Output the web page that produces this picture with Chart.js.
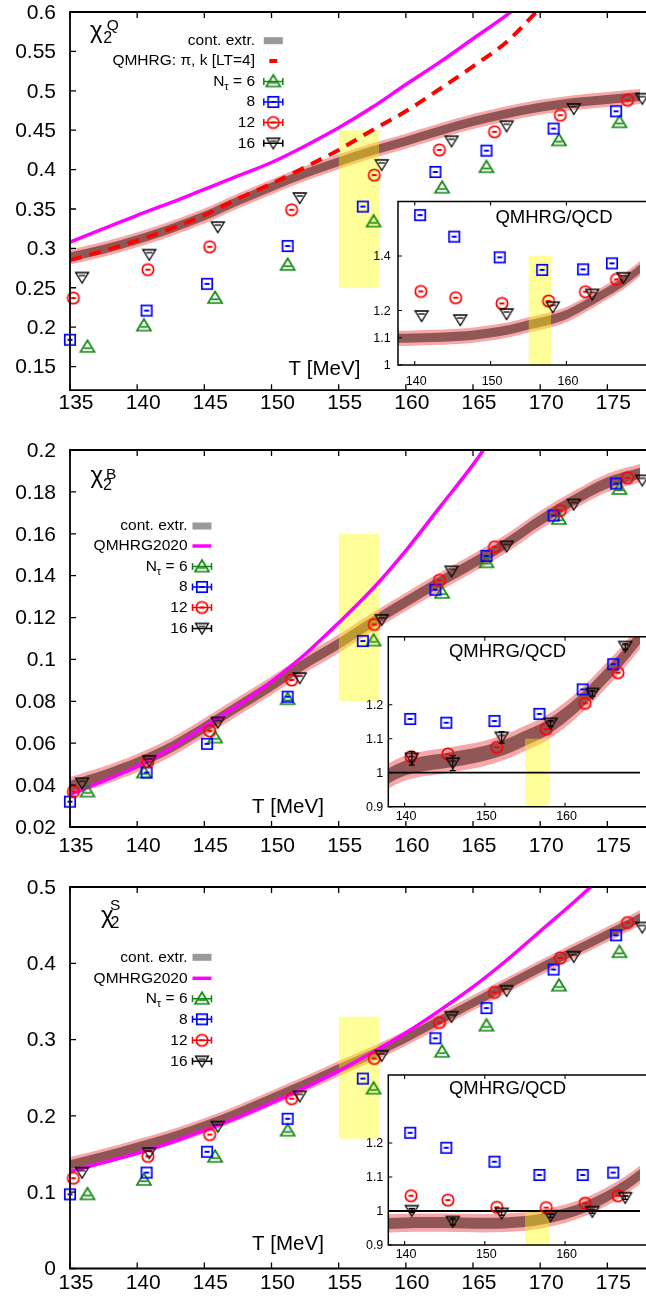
<!DOCTYPE html>
<html>
<head>
<meta charset="utf-8">
<title>chi2 Q, B, S vs T</title>
<script src="https://cdn.jsdelivr.net/npm/chart.js@4.4.1/dist/chart.umd.min.js"></script>
<style>
  html, body { margin:0; padding:0; background:#ffffff; }
  #page { position:relative; width:646px; height:1299px; overflow:hidden; background:#ffffff; }
  #page canvas { position:absolute; display:block; }
</style>
</head>
<body>
<div id="page">
  <canvas id="m1" width="646" height="425" style="left:0px;top:0px;width:646px;height:425px"></canvas>
  <canvas id="m2" width="646" height="432" style="left:0px;top:428px;width:646px;height:432px"></canvas>
  <canvas id="m3" width="646" height="433" style="left:0px;top:866px;width:646px;height:433px"></canvas>
  <canvas id="i1" width="291" height="200" style="left:355px;top:195px;width:291px;height:200px"></canvas>
  <canvas id="i2" width="301" height="200" style="left:345px;top:630px;width:301px;height:200px"></canvas>
  <canvas id="i3" width="301" height="200" style="left:345px;top:1066px;width:301px;height:200px"></canvas>
</div>
<script>
// ===================== DATA =====================
// Tick values
const xTicksMain = [135, 140, 145, 150, 155, 160, 165, 170, 175];
const xTicksInset = [140, 150, 160];
const yTicksQ = [0.15, 0.2, 0.25, 0.3, 0.35, 0.4, 0.45, 0.5, 0.55, 0.6];
const yTicksB = [0.02, 0.04, 0.06, 0.08, 0.1, 0.12, 0.14, 0.16, 0.18, 0.2];
const yTicksS = [0, 0.1, 0.2, 0.3, 0.4, 0.5];
const yTicksRatioQ = [1, 1.1, 1.2, 1.4];
const yTicksRatioBS = [0.9, 1, 1.1, 1.2];

// Lattice temperatures (MeV) per N_tau
const T_N6  = [136.3, 140.5, 145.8, 151.2, 157.6, 162.7, 166.0, 171.4, 175.9];
const T_N8  = [135.0, 140.7, 145.2, 151.2, 156.8, 162.2, 166.0, 171.0, 175.65];
const T_N12 = [135.25, 140.8, 145.4, 151.5, 157.65, 162.5, 166.6, 171.5, 176.5];
const T_N16 = [135.9, 140.9, 146.0, 152.1, 158.2, 163.4, 167.5, 172.5, 177.6];
// temperatures used in the ratio insets
const T_R_N8  = [140.7, 145.2, 151.2, 156.8, 162.2, 166.0];
const T_R_N12 = [140.8, 145.4, 151.5, 157.65, 162.5, 166.6];
const T_R_N16 = [140.9, 146.0, 152.1, 158.2, 163.4, 167.5];

// chi2^Q lattice data
const chiQ_N6  = [0.175, 0.202, 0.237, 0.279, 0.334, 0.377, 0.403, 0.437, 0.460];
const chiQ_N8  = [0.184, 0.221, 0.255, 0.303, 0.353, 0.397, 0.424, 0.452, 0.474];
const chiQ_N12 = [0.237, 0.273, 0.302, 0.349, 0.393, 0.425, 0.448, 0.469, 0.488];
const chiQ_N16 = [0.263, 0.292, 0.327, 0.364, 0.406, 0.436, 0.455, 0.477, 0.490];
// chi2^B lattice data
const chiB_N6  = [0.0369, 0.0460, 0.0627, 0.0810, 0.1090, 0.1318, 0.1464, 0.1671, 0.1814];
const chiB_N8  = [0.0321, 0.0460, 0.0597, 0.0822, 0.1088, 0.1333, 0.1494, 0.1687, 0.1840];
const chiB_N12 = [0.0369, 0.0512, 0.0659, 0.0902, 0.1167, 0.1378, 0.1538, 0.1711, 0.1867];
const chiB_N16 = [0.0409, 0.0516, 0.0699, 0.0911, 0.1189, 0.1421, 0.1540, 0.1740, 0.1855];
// chi2^S lattice data
const chiS_N6  = [0.0972, 0.1161, 0.1464, 0.1807, 0.2357, 0.2840, 0.3183, 0.3707, 0.4146];
const chiS_N8  = [0.0972, 0.1257, 0.1530, 0.1962, 0.2489, 0.3017, 0.3413, 0.3918, 0.4367];
const chiS_N12 = [0.1183, 0.1469, 0.1755, 0.2225, 0.2753, 0.3223, 0.3620, 0.4070, 0.4534];
const chiS_N16 = [0.1257, 0.1513, 0.1860, 0.2256, 0.2788, 0.3300, 0.3640, 0.4086, 0.4470];

// continuum extrapolation bands (central value, half width)
const T_band = [135, 137.5, 140, 142.5, 145, 147.5, 150, 152.5, 155, 157.5, 160, 162.5, 165, 167.5, 170, 172.5, 175, 177.5];
const chiQ_band = [0.289, 0.299, 0.311, 0.325, 0.341, 0.360, 0.378, 0.395, 0.410, 0.424, 0.436, 0.449, 0.461, 0.471, 0.479, 0.485, 0.489, 0.493];
const chiB_band = [0.0395, 0.0445, 0.0505, 0.0580, 0.0675, 0.0775, 0.0875, 0.0980, 0.1075, 0.1178, 0.1275, 0.1370, 0.1460, 0.1555, 0.1665, 0.1760, 0.1843, 0.1890];
const chiS_band = [0.136, 0.147, 0.159, 0.172, 0.187, 0.204, 0.223, 0.242, 0.262, 0.281, 0.302, 0.325, 0.348, 0.371, 0.394, 0.416, 0.438, 0.460];
const chiQ_bandErr = 0.0095;
const chiB_bandErr = 0.0044;
const chiS_bandErr = 0.0100;

// HRG curves
const T_qmQ = [135, 137.5, 140, 142.5, 145, 147.5, 150, 152.5, 155, 157.5, 160, 162.5, 165, 167.5, 170];
const chiQ_QMHRG = [0.308, 0.325, 0.342, 0.358, 0.375, 0.392, 0.409, 0.430, 0.453, 0.479, 0.508, 0.536, 0.566, 0.596, 0.630];
const chiQ_piK   = [0.285, 0.297, 0.310, 0.325, 0.342, 0.363, 0.382, 0.403, 0.425, 0.450, 0.474, 0.502, 0.531, 0.562, 0.605];
const T_qmB = [135, 137.5, 140, 142.5, 145, 147.5, 150, 152.5, 155, 157.5, 160, 162.5, 165, 167.5];
const chiB_QMHRG = [0.0355, 0.0420, 0.0490, 0.0575, 0.0680, 0.0780, 0.0895, 0.1025, 0.1175, 0.1335, 0.1520, 0.1725, 0.1930, 0.2160];
const T_qmS = [135, 137.5, 140, 142.5, 145, 147.5, 150, 152.5, 155, 157.5, 160, 162.5, 165, 167.5, 170, 172.5, 175];
const chiS_QMHRG = [0.127, 0.139, 0.151, 0.165, 0.181, 0.198, 0.217, 0.237, 0.259, 0.283, 0.309, 0.338, 0.369, 0.404, 0.442, 0.480, 0.520];

// ratio QMHRG/QCD insets
const T_ratioBand = [137.5, 140, 142.5, 145, 147.5, 150, 152.5, 155, 157.5, 160, 162.5, 165, 167.5, 170];
const ratioQ_band = [1.098, 1.099, 1.101, 1.104, 1.109, 1.118, 1.130, 1.147, 1.163, 1.185, 1.222, 1.263, 1.305, 1.360];
const ratioB_band = [0.985, 1.013, 1.027, 1.035, 1.045, 1.057, 1.075, 1.101, 1.129, 1.170, 1.222, 1.283, 1.347, 1.420];
const ratioS_band = [0.963, 0.965, 0.966, 0.966, 0.965, 0.964, 0.965, 0.969, 0.978, 0.992, 1.012, 1.040, 1.075, 1.118];
const ratioQ_bandErr = 0.028;
const ratioB_bandErr = 0.037;
const ratioS_bandErr = 0.027;
const ratioQ_N8  = [1.550, 1.471, 1.395, 1.349, 1.351, 1.373];
const ratioQ_N12 = [1.270, 1.247, 1.226, 1.235, 1.269, 1.314];
const ratioQ_N16 = [1.180, 1.165, 1.187, 1.212, 1.259, 1.320];
const ratioB_N8  = [1.158, 1.147, 1.152, 1.173, 1.245, 1.319];
const ratioB_N12 = [1.047, 1.055, 1.075, 1.128, 1.204, 1.294];
const ratioB_N16 = [1.042, 1.028, 1.104, 1.145, 1.233, 1.371];
const ratioB_N16_err = [0.020, 0.022, 0.017, 0.008, 0.008, 0.008];
const ratioS_N8  = [1.230, 1.186, 1.145, 1.106, 1.106, 1.113];
const ratioS_N12 = [1.045, 1.032, 1.011, 1.010, 1.023, 1.045];
const ratioS_N16 = [1.001, 0.969, 0.993, 0.986, 0.998, 1.039];
const ratioS_N16_err = [0.006, 0.010, 0.006, 0.005, 0.005, 0.005];

// pseudo-critical region (T range and vertical extent per panel)
const T_pc = [155, 158];
const boxQ = [0.25, 0.45], boxB = [0.08, 0.16], boxS = [0.17, 0.33];
const boxRQ = [1.0, 1.4], boxRB = [0.9, 1.1], boxRS = [0.9, 1.0];
const unityT = [130, 180], unityV = [1, 1];

// Text
const legendQ = ['cont. extr.', 'QMHRG: π, k [LT=4]', 'N_τ = 6', '8', '12', '16'];
const legendBS = ['cont. extr.', 'QMHRG2020', 'N_τ = 6', '8', '12', '16'];
const xTitle = 'T [MeV]';
const insetTitle = 'QMHRG/QCD';

// ===================== STYLE =====================
const FONT = "'Liberation Sans', Arial, Helvetica, sans-serif";
Chart.defaults.font.family = FONT;
Chart.defaults.color = '#000';
const C = {
  green: '#118811', blue: '#0000ff', red: '#ff0000', black: '#000000', magenta: '#ff00ff',
  bandOuter: 'rgba(240,110,110,0.6)', bandInner: 'rgba(105,55,55,0.72)',
  yellow: 'rgba(255,255,0,0.4)', legendGray: '#999999'
};
const fmt = v => String(+Number(v).toFixed(4));

function marker(kind, color) {
  const c = document.createElement('canvas'); c.width = 20; c.height = 20;
  const g = c.getContext('2d'); g.strokeStyle = color; g.fillStyle = color; g.lineWidth = 1.7;
  const m = 10;
  if (kind === 'square') {
    g.strokeRect(m - 5.2, m - 5.2, 10.4, 10.4); g.fillRect(m - 2.5, m - 1, 5, 2);
  } else if (kind === 'circle') {
    g.beginPath(); g.arc(m, m, 5.7, 0, 2 * Math.PI); g.stroke(); g.fillRect(m - 2.5, m - 1, 5, 2);
  } else if (kind === 'up') {
    g.beginPath(); g.moveTo(m - 7, m + 5); g.lineTo(m + 7, m + 5); g.lineTo(m, m - 6.5); g.closePath(); g.stroke();
    g.beginPath(); g.moveTo(m - 3.6, m + 1.3); g.lineTo(m + 3.6, m + 1.3); g.stroke();
  } else {
    g.lineWidth = 1.3;
    g.beginPath(); g.moveTo(m - 6.5, m - 5); g.lineTo(m + 6.5, m - 5); g.lineTo(m, m + 5.5); g.closePath(); g.stroke();
    g.beginPath(); g.moveTo(m - 3.3, m - 2); g.lineTo(m + 3.3, m - 2); g.stroke();
  }
  return c;
}
const MK = {
  up: marker('up', C.green), square: marker('square', C.blue),
  circle: marker('circle', C.red), down: marker('down', C.black)
};
const MKCOL = { up: C.green, square: C.blue, circle: C.red, down: C.black };

function pts(xs, ys) { return ys.map((y, i) => ({ x: xs[i], y: y })); }
const base = { pointRadius: 0, pointHoverRadius: 0, borderWidth: 0, fill: false, cubicInterpolationMode: 'monotone' };

function bandSets(xs, mid, err) {
  const mk = (f, s) => xs.map((x, i) => ({ x: x, y: mid[i] + s * f * err }));
  return [
    Object.assign({}, base, { data: mk(1, -1), order: 30 }),
    Object.assign({}, base, { data: mk(1, 1), order: 30, fill: '-1', backgroundColor: C.bandOuter }),
    Object.assign({}, base, { data: mk(0.6, -1), order: 29 }),
    Object.assign({}, base, { data: mk(0.6, 1), order: 29, fill: '-1', backgroundColor: C.bandInner })
  ];
}
function boxSets(xr, yr) {
  return [
    Object.assign({}, base, { cubicInterpolationMode: 'default', data: pts(xr, [yr[0], yr[0]]), order: 25 }),
    Object.assign({}, base, { cubicInterpolationMode: 'default', data: pts(xr, [yr[1], yr[1]]), order: 25, fill: '-1', backgroundColor: C.yellow })
  ];
}
function curveSet(xs, ys, color, width, dash, order) {
  return Object.assign({}, base, { data: pts(xs, ys), borderColor: color, borderWidth: width, borderDash: dash || [], order: order, borderCapStyle: 'butt' });
}
function markSet(xs, ys, kind, order, errs) {
  const ds = { data: pts(xs, ys), showLine: false, pointStyle: MK[kind], pointRadius: 6, pointHoverRadius: 6, pointBorderWidth: 0, order: order, clip: false };
  if (errs) { ds.errY = errs; ds.errColor = MKCOL[kind]; }
  return ds;
}

// ===================== DECORATION =====================
const DECOR = {};
function drawSample(ctx, kind, cx, y) {
  const hw = 9.5;
  if (kind === 'band') { ctx.fillStyle = C.legendGray; ctx.fillRect(cx - hw, y - 3.5, 2 * hw, 7); return; }
  if (kind === 'line') { ctx.strokeStyle = C.magenta; ctx.lineWidth = 3.5; ctx.beginPath(); ctx.moveTo(cx - hw, y); ctx.lineTo(cx + hw, y); ctx.stroke(); return; }
  if (kind === 'dash') { ctx.strokeStyle = C.red; ctx.lineWidth = 4; ctx.beginPath(); ctx.moveTo(cx - 4, y); ctx.lineTo(cx + 4, y); ctx.stroke(); return; }
  ctx.strokeStyle = MKCOL[kind]; ctx.lineWidth = 1.5;
  ctx.beginPath(); ctx.moveTo(cx - hw, y); ctx.lineTo(cx + hw, y);
  ctx.moveTo(cx - hw, y - 3.5); ctx.lineTo(cx - hw, y + 3.5);
  ctx.moveTo(cx + hw, y - 3.5); ctx.lineTo(cx + hw, y + 3.5); ctx.stroke();
  const img = MK[kind]; ctx.drawImage(img, cx - img.width / 2, y - img.height / 2);
}
function drawLegend(ctx, d) {
  const L = d.legend;
  L.labels.forEach((label, i) => {
    const y = L.rows[i] - d.oy, xr = L.textRight - d.ox, cx = L.sampleX - d.ox;
    ctx.fillStyle = '#000'; ctx.textBaseline = 'middle';
    if (label.indexOf('N_') === 0) {
      const head = label.charAt(0), sub = label.charAt(2), rest = label.slice(3);
      ctx.font = '15.5px ' + FONT; const w1 = ctx.measureText(head).width, w3 = ctx.measureText(rest).width;
      ctx.font = '11px ' + FONT; const w2 = ctx.measureText(sub).width;
      let x = xr - (w1 + w2 + w3);
      ctx.textAlign = 'left';
      ctx.font = '15.5px ' + FONT; ctx.fillText(head, x, y); x += w1;
      ctx.font = '11px ' + FONT; ctx.fillText(sub, x, y + 5); x += w2;
      ctx.font = '15.5px ' + FONT; ctx.fillText(rest, x, y);
    } else {
      ctx.font = '15.5px ' + FONT; ctx.textAlign = 'right'; ctx.fillText(label, xr, y);
    }
    drawSample(ctx, L.kinds[i], cx, y);
  });
}
function drawChi(ctx, d) {
  const c = d.chi;
  ctx.fillStyle = '#000'; ctx.textAlign = 'left'; ctx.textBaseline = 'alphabetic';
  ctx.font = '24px ' + FONT; ctx.fillText('χ', c.x - d.ox, c.y - d.oy);
  ctx.font = '16px ' + FONT; ctx.fillText('2', c.subX - d.ox, c.subY - d.oy);
  ctx.font = '15.5px ' + FONT; ctx.fillText(c.sup, c.supX - d.ox, c.supY - d.oy);
}
function drawErrors(chart) {
  const ctx = chart.ctx, sx = chart.scales.x, sy = chart.scales.y;
  chart.data.datasets.forEach(ds => {
    if (!ds.errY) return;
    ctx.strokeStyle = ds.errColor; ctx.lineWidth = 1.2; ctx.beginPath();
    ds.data.forEach((p, i) => {
      const e = ds.errY[i]; if (!e) return;
      const x = sx.getPixelForValue(p.x), y1 = sy.getPixelForValue(p.y - e), y2 = sy.getPixelForValue(p.y + e);
      ctx.moveTo(x, y1); ctx.lineTo(x, y2);
      ctx.moveTo(x - 3, y1); ctx.lineTo(x + 3, y1);
      ctx.moveTo(x - 3, y2); ctx.lineTo(x + 3, y2);
    });
    ctx.stroke();
  });
}
const decorPlugin = {
  id: 'decor',
  beforeDraw(chart) {
    const d = DECOR[chart.canvas.id];
    if (!d.whiteArea) return;
    const a = chart.chartArea, ctx = chart.ctx;
    ctx.save(); ctx.fillStyle = '#ffffff'; ctx.fillRect(a.left, a.top, a.right - a.left + 5, a.bottom - a.top); ctx.restore();
  },
  afterDatasetsDraw(chart) {
    const d = DECOR[chart.canvas.id], ctx = chart.ctx, a = chart.chartArea;
    const sx = chart.scales.x, sy = chart.scales.y;
    ctx.save();
    drawErrors(chart);
    ctx.strokeStyle = '#000'; ctx.lineWidth = d.frameW; ctx.lineCap = 'butt';
    ctx.beginPath();
    ctx.moveTo(a.right + 10, a.top); ctx.lineTo(a.left, a.top); ctx.lineTo(a.left, a.bottom); ctx.lineTo(a.right + 10, a.bottom);
    ctx.stroke();
    ctx.lineWidth = d.tickW; ctx.beginPath();
    d.xticks.forEach(v => { const p = sx.getPixelForValue(v); ctx.moveTo(p, a.top); ctx.lineTo(p, a.top + d.tickLen); ctx.moveTo(p, a.bottom); ctx.lineTo(p, a.bottom - d.tickLen); });
    d.yticks.forEach(v => { const p = sy.getPixelForValue(v); ctx.moveTo(a.left, p); ctx.lineTo(a.left + d.tickLen, p); });
    ctx.stroke();
    (d.texts || []).forEach(t => {
      ctx.fillStyle = '#000'; ctx.font = t.size + 'px ' + FONT; ctx.textAlign = 'center'; ctx.textBaseline = 'middle';
      ctx.fillText(t.text, t.x - d.ox, t.y - d.oy);
    });
    if (d.chi) drawChi(ctx, d);
    if (d.legend) drawLegend(ctx, d);
    ctx.restore();
  }
};

// ===================== CHART BUILDER =====================
function makeChart(id, g, datasets) {
  const canvas = document.getElementById(id);
  const H = canvas.height;
  DECOR[id] = g.decor;
  return new Chart(canvas, {
    type: 'line',
    data: { datasets: datasets },
    options: {
      responsive: false, animation: false, devicePixelRatio: 1, events: [],
      layout: { padding: { left: 0, right: 0, top: g.top, bottom: 0 } },
      plugins: { legend: { display: false }, tooltip: { enabled: false } },
      scales: {
        x: {
          type: 'linear', min: g.xmin, max: g.xmax,
          grid: { display: false, drawTicks: false }, border: { display: false },
          ticks: { font: { size: g.fs }, color: '#000', padding: g.xpad, labelOffset: g.xoff, maxRotation: 0, minRotation: 0, autoSkip: false, callback: fmt },
          afterBuildTicks: s => { s.ticks = g.xticks.map(v => ({ value: v })); },
          afterFit: s => { s.height = H - g.bottom; s.paddingLeft = 0; s.paddingRight = 0; }
        },
        y: {
          type: 'linear', min: g.ymin, max: g.ymax,
          grid: { display: false, drawTicks: false }, border: { display: false },
          ticks: { font: { size: g.fs }, color: '#000', padding: g.ypad, labelOffset: 1, autoSkip: false, callback: fmt },
          afterBuildTicks: s => { s.ticks = g.yticks.map(v => ({ value: v })); },
          afterFit: s => { s.width = g.left; s.paddingTop = 0; s.paddingBottom = 0; }
        }
      }
    },
    plugins: [decorPlugin]
  });
}

function latticeSets(v6, v8, v12, v16) {
  return [
    markSet(T_N16, v16, 'down', 1),
    markSet(T_N12, v12, 'circle', 2),
    markSet(T_N8, v8, 'square', 3),
    markSet(T_N6, v6, 'up', 4)
  ];
}
const kindsQ = ['band', 'dash', 'up', 'square', 'circle', 'down'];
const kindsBS = ['band', 'line', 'up', 'square', 'circle', 'down'];
const mainTick = { frameW: 1.8, tickW: 1.3, tickLen: 6, xticks: xTicksMain };
const insetTick = { frameW: 1.5, tickW: 1.1, tickLen: 4, xticks: xTicksInset, whiteArea: true };

// ---- panel 1 : chi2^Q ----
makeChart('m1', {
  top: 12, bottom: 390.2, left: 70, xmin: 135, xmax: 177.43, ymin: 0.12, ymax: 0.6,
  xticks: xTicksMain, yticks: yTicksQ, fs: 21, xpad: 0, xoff: 6, ypad: 14,
  decor: Object.assign({}, mainTick, { ox: 0, oy: 0, yticks: yTicksQ,
    texts: [{ text: xTitle, x: 324.5, y: 369, size: 20.5 }],
    chi: { x: 90, y: 38, subX: 103.3, subY: 43.3, sup: 'Q', supX: 106.7, supY: 29.5 },
    legend: { labels: legendQ, kinds: kindsQ, rows: [40.7, 61, 81.5, 102, 122.5, 143.3], textRight: 255, sampleX: 273.3 } })
}, [].concat(
  bandSets(T_band, chiQ_band, chiQ_bandErr),
  boxSets(T_pc, boxQ),
  [curveSet(T_qmQ, chiQ_QMHRG, C.magenta, 3.5, null, 10),
   curveSet(T_qmQ, chiQ_piK, C.red, 4, [12, 8], 9)],
  latticeSets(chiQ_N6, chiQ_N8, chiQ_N12, chiQ_N16)
));

// ---- panel 2 : chi2^B ----
makeChart('m2', {
  top: 22, bottom: 399, left: 70, xmin: 135, xmax: 177.43, ymin: 0.02, ymax: 0.2,
  xticks: xTicksMain, yticks: yTicksB, fs: 21, xpad: 7, xoff: 6, ypad: 14,
  decor: Object.assign({}, mainTick, { ox: 0, oy: 428, yticks: yTicksB,
    texts: [{ text: xTitle, x: 288, y: 807.5, size: 20.5 }],
    chi: { x: 90.6, y: 483, subX: 103, subY: 490, sup: 'B', supX: 106, supY: 478.5 },
    legend: { labels: legendBS, kinds: kindsBS, rows: [526, 546, 566.6, 587, 607.5, 628.5], textRight: 187.5, sampleX: 202 } })
}, [].concat(
  bandSets(T_band, chiB_band, chiB_bandErr),
  boxSets(T_pc, boxB),
  [curveSet(T_qmB, chiB_QMHRG, C.magenta, 3.5, null, 10)],
  latticeSets(chiB_N6, chiB_N8, chiB_N12, chiB_N16)
));

// ---- panel 3 : chi2^S ----
makeChart('m3', {
  top: 21, bottom: 402.5, left: 70, xmin: 135, xmax: 177.43, ymin: 0, ymax: 0.5,
  xticks: xTicksMain, yticks: yTicksS, fs: 21, xpad: 2, xoff: 6, ypad: 14,
  decor: Object.assign({}, mainTick, { ox: 0, oy: 866, yticks: yTicksS,
    texts: [{ text: xTitle, x: 288, y: 1244, size: 20.5 }],
    chi: { x: 101, y: 922.7, subX: 110.5, subY: 928.3, sup: 'S', supX: 110, supY: 910 },
    legend: { labels: legendBS, kinds: kindsBS, rows: [957.3, 978.3, 998.8, 1019.3, 1040.3, 1061.3], textRight: 187.5, sampleX: 202 } })
}, [].concat(
  bandSets(T_band, chiS_band, chiS_bandErr),
  boxSets(T_pc, boxS),
  [curveSet(T_qmS, chiS_QMHRG, C.magenta, 3.5, null, 10)],
  latticeSets(chiS_N6, chiS_N8, chiS_N12, chiS_N16)
));

// ---- insets ----
function ratioSets(v8, v12, v16, e16) {
  return [
    markSet(T_R_N16, v16, 'down', 1, e16),
    markSet(T_R_N12, v12, 'circle', 2),
    markSet(T_R_N8, v8, 'square', 3)
  ];
}
makeChart('i1', {
  top: 6.5, bottom: 170, left: 43, xmin: 137.79, xmax: 169.70, ymin: 1.0, ymax: 1.6,
  xticks: xTicksInset, yticks: yTicksRatioQ, fs: 12.5, xpad: 9, xoff: 1.5, ypad: 7.4,
  decor: Object.assign({}, insetTick, { ox: 355, oy: 195, yticks: yTicksRatioQ,
    texts: [{ text: insetTitle, x: 554, y: 217.5, size: 18.5 }] })
}, [].concat(
  bandSets(T_ratioBand, ratioQ_band, ratioQ_bandErr),
  boxSets(T_pc, boxRQ),
  ratioSets(ratioQ_N8, ratioQ_N12, ratioQ_N16)
));
makeChart('i2', {
  top: 6.7, bottom: 176.7, left: 43.3, xmin: 137.97, xmax: 169.34, ymin: 0.9, ymax: 1.4,
  xticks: xTicksInset, yticks: yTicksRatioBS, fs: 12.5, xpad: 2.5, xoff: 1.5, ypad: 5,
  decor: Object.assign({}, insetTick, { ox: 345, oy: 630, yticks: yTicksRatioBS,
    texts: [{ text: insetTitle, x: 507.5, y: 651.5, size: 18.5 }] })
}, [].concat(
  bandSets(T_ratioBand, ratioB_band, ratioB_bandErr),
  boxSets(T_pc, boxRB),
  [curveSet(unityT, unityV, C.black, 1.8, null, 12)],
  ratioSets(ratioB_N8, ratioB_N12, ratioB_N16, ratioB_N16_err)
));
makeChart('i3', {
  top: 9, bottom: 179, left: 43.3, xmin: 137.97, xmax: 169.34, ymin: 0.9, ymax: 1.4,
  xticks: xTicksInset, yticks: yTicksRatioBS, fs: 12.5, xpad: 2.5, xoff: 1.5, ypad: 5,
  decor: Object.assign({}, insetTick, { ox: 345, oy: 1066, yticks: yTicksRatioBS,
    texts: [{ text: insetTitle, x: 507.5, y: 1089, size: 18.5 }] })
}, [].concat(
  bandSets(T_ratioBand, ratioS_band, ratioS_bandErr),
  boxSets(T_pc, boxRS),
  [curveSet(unityT, unityV, C.black, 1.8, null, 12)],
  ratioSets(ratioS_N8, ratioS_N12, ratioS_N16, ratioS_N16_err)
));
</script>
</body>
</html>
